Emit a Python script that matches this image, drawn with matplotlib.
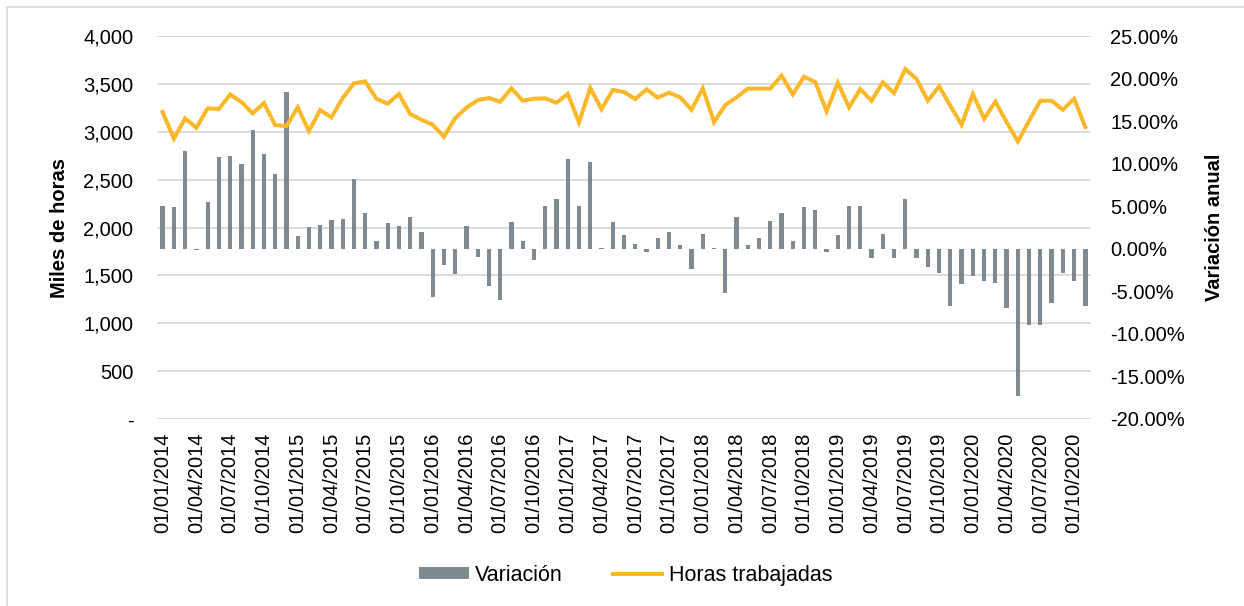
import matplotlib
matplotlib.use("Agg")
import matplotlib.pyplot as plt
from matplotlib.patches import Rectangle
from matplotlib.ticker import FixedLocator, FuncFormatter

plt.rcParams['font.family'] = ['Liberation Sans', 'DejaVu Sans']

# monthly series, Jan 2014 - Nov 2020
horas = [3206, 2927, 3140, 3042, 3244, 3237, 3390, 3310, 3192, 3300, 3070, 3059,
         3255, 3007, 3227, 3150, 3352, 3505, 3526, 3345, 3293, 3394, 3185, 3126,
         3073, 2948, 3143, 3251, 3331, 3352, 3314, 3453, 3324, 3345, 3349, 3303,
         3397, 3098, 3457, 3237, 3436, 3415, 3342, 3443, 3356, 3408, 3359, 3230,
         3453, 3101, 3279, 3359, 3450, 3450, 3450, 3586, 3390, 3575, 3519, 3213,
         3512, 3255, 3446, 3324, 3516, 3404, 3655, 3551, 3324, 3474, 3272, 3073,
         3394, 3136, 3314, 3101, 2899, 3115, 3324, 3324, 3230, 3345, 3049]

variacion = [5.05, 4.94, 11.44, -0.15, 5.44, 10.73, 10.85, 9.91, 13.94, 11.08, 8.81, 18.41,
             1.49, 2.55, 2.78, 3.37, 3.49, 8.19, 4.19, 0.94, 3.02, 2.62, 3.68, 2.00,
             -5.72, -1.88, -2.94, 2.66, -0.94, -4.43, -6.07, 3.17, 0.94, -1.37, 5.01, 5.88,
             10.54, 5.01, 10.18, 0.08, 3.17, 1.60, 0.59, -0.39, 1.25, 1.96, 0.47, -2.35,
             1.72, 0.05, -5.17, 3.76, 0.47, 1.21, 3.21, 4.23, 0.94, 4.90, 4.58, -0.43,
             1.57, 5.05, 5.07, -1.10, 1.68, -1.10, 5.80, -1.06, -2.12, -2.86, -6.70, -4.11,
             -3.21, -3.84, -4.00, -6.97, -17.31, -8.93, -9.01, -6.42, -2.86, -3.84, -6.78]

etiquetas = ["01/01/2014", "01/04/2014", "01/07/2014", "01/10/2014",
             "01/01/2015", "01/04/2015", "01/07/2015", "01/10/2015",
             "01/01/2016", "01/04/2016", "01/07/2016", "01/10/2016",
             "01/01/2017", "01/04/2017", "01/07/2017", "01/10/2017",
             "01/01/2018", "01/04/2018", "01/07/2018", "01/10/2018",
             "01/01/2019", "01/04/2019", "01/07/2019", "01/10/2019",
             "01/01/2020", "01/04/2020", "01/07/2020", "01/10/2020"]

GRIS = "#7f8990"
AMARILLO = "#fbb829"
FS = 14.5

x = list(range(len(horas)))

fig = plt.figure(figsize=(12.44, 6.06), dpi=100)
# light frame around the chart
fig.patches.append(Rectangle((7 / 1244, -0.05), 1.2, 1 - 7 / 606 + 0.05,
                             transform=fig.transFigure, fill=False,
                             edgecolor="#d9d9d9", linewidth=1.2))

ax = fig.add_axes([157 / 1244, 1 - 419 / 606, (1091 - 157) / 1244, (419 - 36) / 606])
ax2 = ax.twinx()
ax3 = ax.twinx()

# left axis with gridlines
ax.set_ylim(0, 4000)
ax.yaxis.set_major_locator(FixedLocator(range(0, 4001, 500)))
ax.yaxis.set_major_formatter(FuncFormatter(lambda v, p: "-" if v == 0 else f"{int(v):,}"))
ax.grid(axis="y", color="#d9d9d9", linewidth=1.3)
ax.set_axisbelow(True)
ax.set_ylabel("Miles de horas", fontsize=FS, fontweight="bold", labelpad=10)

# bars on right axis
ax2.bar(x, variacion, width=0.38, color=GRIS, label="Variación", zorder=2)
ax2.set_ylim(-20, 25)
ax2.yaxis.set_major_locator(FixedLocator(range(-20, 26, 5)))
ax2.yaxis.set_major_formatter(FuncFormatter(lambda v, p: f"{v:.2f}%"))
ax2.set_ylabel("Variación anual", fontsize=FS, fontweight="bold", labelpad=14)

# line on top, left scale
ax3.plot(x, horas, color=AMARILLO, linewidth=2.9, label="Horas trabajadas",
         solid_joinstyle="miter")
ax3.set_ylim(0, 4000)
ax3.set_yticks([])

for a in (ax, ax2, ax3):
    a.set_xlim(-0.5, len(horas) - 0.5)
    for s in a.spines.values():
        s.set_visible(False)

ax.set_xticks(range(0, len(horas), 3))
ax.set_xticklabels(etiquetas, rotation=90)
ax.tick_params(axis="x", length=0, pad=10, labelsize=FS)
ax.tick_params(axis="y", length=0, pad=17, labelsize=FS)
ax2.tick_params(axis="y", length=0, pad=14, labelsize=FS)

h2, l2 = ax2.get_legend_handles_labels()
h3, l3 = ax3.get_legend_handles_labels()
fig.legend(h2 + h3, l2 + l3, loc="center", bbox_to_anchor=(0.503, 0.051),
           ncol=2, frameon=False, fontsize=15.5, handlelength=2.3,
           handleheight=0.45, handletextpad=0.3, columnspacing=2.3)

fig.savefig("out.png", dpi=100)
